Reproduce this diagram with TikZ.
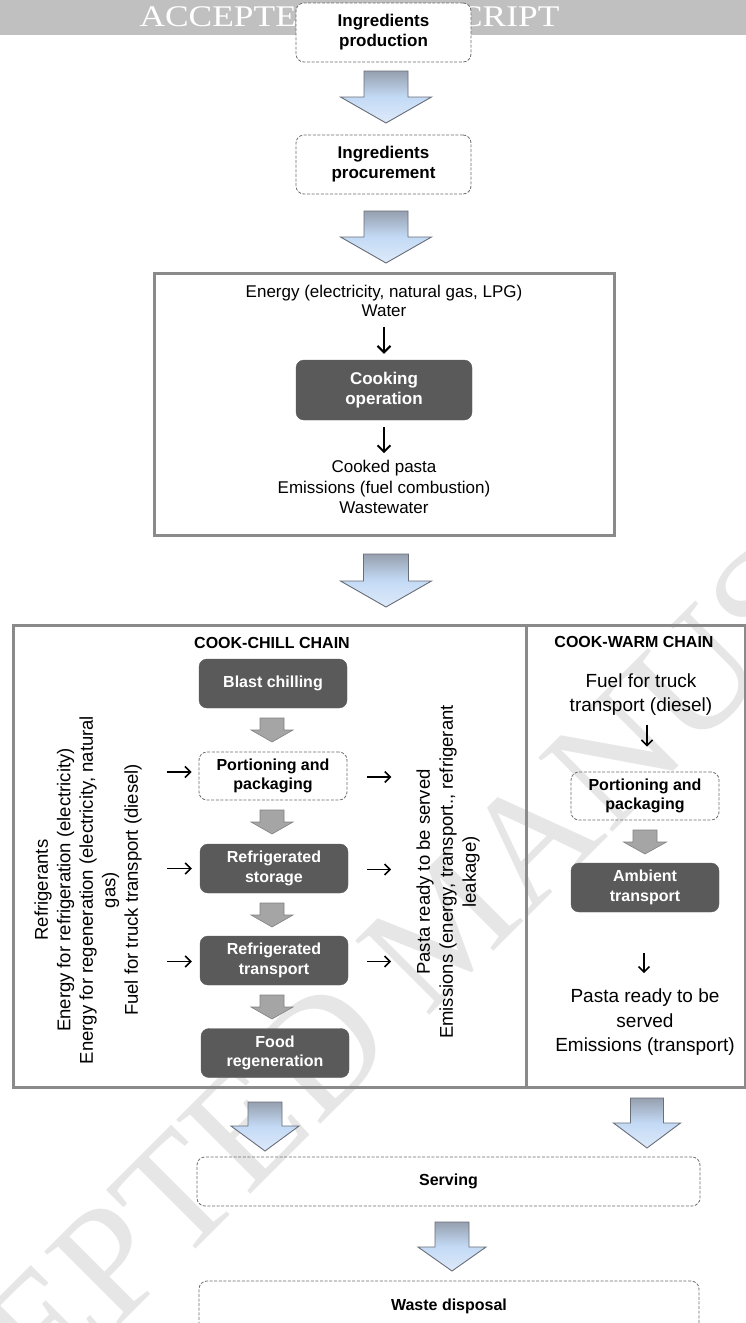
\documentclass[tikz,border=0pt]{standalone}
\usepackage{fontspec}
\setmainfont{Liberation Sans}
\newfontfamily\wmfont{Liberation Serif}
\usetikzlibrary{arrows.meta,calc}
\definecolor{boxdark}{RGB}{90,90,90}
\definecolor{framegray}{RGB}{138,138,138}
\definecolor{dashgray}{RGB}{110,110,110}
\definecolor{arrtop}{RGB}{150,160,175}
\definecolor{arrmid}{RGB}{195,218,245}
\definecolor{arrbot}{RGB}{222,234,250}
\definecolor{arredge}{RGB}{105,110,120}
\definecolor{smallarr}{RGB}{165,165,165}
\definecolor{smallarredge}{RGB}{130,130,130}
\definecolor{headergray}{RGB}{192,192,192}
\definecolor{wmgray}{RGB}{230,230,230}
\newcommand{\fs}[2]{\fontsize{#1}{#2}\selectfont}
% block arrow: [style] cx, top, half shaft, half head, shaft length, head length
\newcommand{\blockarrow}[7][bigarrow]{%
  \path[#1] (#2-#4,#3) -- (#2+#4,#3) -- (#2+#4,#3+#6) -- (#2+#5,#3+#6) -- (#2,#3+#6+#7) -- (#2-#5,#3+#6) -- (#2-#4,#3+#6) -- cycle;}
\begin{document}
\begin{tikzpicture}[x=1pt,y=-1pt,
  darkbox/.style={rounded corners=8pt, fill=boxdark, draw=boxdark, text=white, font=\bfseries\fs{16}{19.5}, align=center, inner sep=0pt, minimum width=148pt, minimum height=49pt},
  dashbox/.style={rounded corners=8pt, draw=dashgray, dash pattern=on 3pt off 1.6pt, line width=0.8pt, font=\bfseries\fs{16}{19.5}, align=center, inner sep=0pt, minimum width=148pt, minimum height=48pt},
  frame/.style={draw=framegray, line width=3pt},
  plain/.style={align=center, inner sep=0pt},
  thinarrow/.style={line width=1.6pt, -{Straight Barb[length=5.5pt,width=11pt,line width=1.6pt]}},
  thickarrow/.style={line width=2pt, -{Straight Barb[length=6.5pt,width=13pt,line width=2pt]}},
  bigarrow/.style={draw=arredge, line width=0.9pt, top color=arrtop, bottom color=arrbot, middle color=arrmid},
  smallarrow/.style={draw=smallarredge, line width=0.6pt, fill=smallarr},
]
\path[use as bounding box] (0,0) rectangle (746,1323);
\clip (0,0) rectangle (746,1323);
\fill[white] (0,0) rectangle (746,1323);

% diagonal watermark
\node[anchor=base west, rotate=45, inner sep=0pt, text=wmgray, font=\wmfont\fs{160}{160}] (wm) at (-186,1631) {ACCEPTED MANUSCRIPT};

% header bar
\fill[headergray] (0,0) rectangle (746,35);
\node[anchor=base, inner sep=0pt, text=white] (hdr) at (349.5,26) {\wmfont\fs{30}{30}\scalebox{1.18}[1]{ACCEPTED MANUSCRIPT}};

% top chain
\node[dashbox, fill=white, minimum width=175pt, minimum height=59pt, font=\bfseries\fs{17}{20}] (prod) at (383.5,32.5) {Ingredients\\production};
\blockarrow{386}{71}{22}{45.5}{26}{26}
\node[dashbox, minimum width=175pt, minimum height=59pt, font=\bfseries\fs{17}{20}] (proc) at (383.5,164.5) {Ingredients\\procurement};
\blockarrow{386}{211}{22}{45.5}{26}{26}

% cooking frame
\node[frame, minimum width=460pt, minimum height=262pt, inner sep=0pt] (cookframe) at (384,404) {};
\node[plain, font=\fs{17}{19}] (cin) at (384,301) {Energy (electricity, natural gas, LPG)\\Water};
\node[darkbox, minimum width=176pt, minimum height=60pt, font=\bfseries\fs{17}{20}] (cook) at (384,390) {Cooking\\operation};
\draw[thickarrow] ($(cook.north)+(0,-33)$) -- ($(cook.north)+(0,-6)$);
\draw[thickarrow] ($(cook.south)+(0,7)$) -- ($(cook.south)+(0,33)$);
\node[plain, font=\fs{17}{20.5}] (cout) at (384,487) {Cooked pasta\\Emissions (fuel combustion)\\Wastewater};
\blockarrow{386}{554}{22.5}{45.5}{27}{26}

% lower frame
\draw[frame] (13,625) rectangle (745,1087);
\draw[frame] (526,625) -- (526,1087);
\node[font=\bfseries\fs{16}{19}, inner sep=0pt] (chillhead) at (272,643) {COOK-CHILL CHAIN};
\node[font=\bfseries\fs{16}{19}, inner sep=0pt] (warmhead) at (634,642) {COOK-WARM CHAIN};

% cook-chill chain
\node[darkbox] (blast) at (273,683.5) {Blast chilling};
\node[dashbox] (port) at (273,776) {Portioning and\\packaging};
\node[darkbox] (store) at (274,868.5) {Refrigerated\\storage};
\node[darkbox] (rtrans) at (274,960.5) {Refrigerated\\transport};
\node[darkbox] (regen) at (275,1053) {Food\\regeneration};
\blockarrow[smallarrow]{272}{718}{12}{21}{12}{12}
\blockarrow[smallarrow]{272}{810}{12}{21}{12}{12}
\blockarrow[smallarrow]{272}{903}{12}{21}{12}{12}
\blockarrow[smallarrow]{272}{995}{12}{21}{12}{12}

\node[plain, rotate=90, font=\fs{18.5}{22.5}] (inputs) at (88,890) {Refrigerants\\Energy for refrigeration (electricity)\\Energy for regeneration (electricity, natural\\gas)\\Fuel for truck transport (diesel)};
\node[plain, rotate=90, font=\fs{18.5}{23}] (outputs) at (448,872) {Pasta ready to be served\\Emissions (energy, transport., refrigerant\\leakage)};

\draw[thinarrow] ($(port.west)+(-32,-4)$) -- ($(port.west)+(-7,-4)$);
\draw[thinarrow] ($(store.west)+(-33,0)$) -- ($(store.west)+(-8,0)$);
\draw[thinarrow] ($(rtrans.west)+(-33,1)$) -- ($(rtrans.west)+(-8,1)$);
\draw[thinarrow] ($(port.east)+(20,1)$) -- ($(port.east)+(44,1)$);
\draw[thinarrow] ($(store.east)+(19,1)$) -- ($(store.east)+(43,1)$);
\draw[thinarrow] ($(rtrans.east)+(19,1)$) -- ($(rtrans.east)+(43,1)$);

% cook-warm chain
\node[plain, font=\fs{19}{23.5}] (fuel) at (641,694.5) {Fuel for truck\\transport (diesel)};
\node[dashbox] (port2) at (645,796) {Portioning and\\packaging};
\draw[thinarrow] ($(port2.north)+(2,-47)$) -- ($(port2.north)+(2,-25)$);
\blockarrow[smallarrow]{645}{830}{12}{21.5}{12}{12}
\node[darkbox] (amb) at (645,887.5) {Ambient\\transport};
\draw[thinarrow] ($(amb.south)+(-1,41)$) -- ($(amb.south)+(-1,61)$);
\node[plain, font=\fs{19}{24.5}] (wout) at (645,1022.5) {Pasta ready to be\\served\\Emissions (transport)};

% bottom
\blockarrow{265}{1102}{17}{34}{24}{25}
\blockarrow{647}{1098}{16.5}{33.5}{25}{25}
\node[dashbox, minimum width=503pt, minimum height=49pt] (serv) at (448.5,1181.5) {Serving};
\blockarrow{452}{1222}{17}{34}{25}{24}
\node[dashbox, minimum width=500pt, minimum height=50pt] (waste) at (449,1306) {Waste disposal};
\end{tikzpicture}
\end{document}
